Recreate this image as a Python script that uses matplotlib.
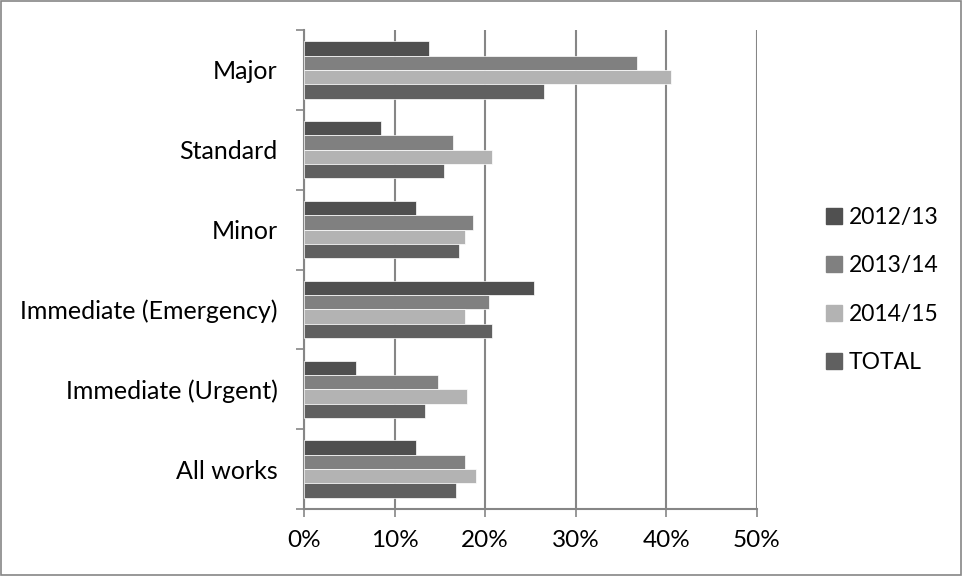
import matplotlib
matplotlib.use("Agg")
import matplotlib.pyplot as plt
import matplotlib.patches as mpatches
import numpy as np

# datos (fracciones)
categories = ["All works", "Immediate (Urgent)", "Immediate (Emergency)", "Minor", "Standard", "Major"]
series_names = ["2012/13", "2013/14", "2014/15", "TOTAL"]
v_2012 = [0.124, 0.057, 0.254, 0.124, 0.085, 0.138]
v_2013 = [0.178, 0.148, 0.204, 0.187, 0.165, 0.368]
v_2014 = [0.190, 0.180, 0.178, 0.178, 0.207, 0.405]
v_total = [0.168, 0.134, 0.208, 0.171, 0.154, 0.265]
xticks = [0, 0.1, 0.2, 0.3, 0.4, 0.5]
xtick_labels = ["0%", "10%", "20%", "30%", "40%", "50%"]

colors = ["#505050", "#808080", "#b3b3b3", "#606060"]
grid_col = "#868686"

plt.rcParams['font.family'] = ['Lato', 'DejaVu Sans']

W, H = 963, 576
fig = plt.figure(figsize=(W / 100, H / 100), dpi=100)
ax = fig.add_axes([304 / W, 1 - 509 / H, (757 - 304) / W, (509 - 30) / H])

y = np.arange(len(categories))
h = 0.18
data = [v_2012, v_2013, v_2014, v_total]
for i, vals in enumerate(data):
    # 2012/13 arriba, TOTAL abajo
    offs = (1.5 - i) * h
    ax.barh(y + offs, vals, height=h, color=colors[i], edgecolor="white",
            linewidth=0.5, zorder=3)

ax.set_xlim(0, 0.5)
ax.set_ylim(-0.5, len(categories) - 0.5)
ax.set_xticks(xticks)
ax.set_xticklabels(xtick_labels, fontsize=17.5)
ax.set_yticks(y)
ax.set_yticklabels(categories, fontsize=18)
ax.tick_params(axis='y', length=0, pad=19)
ax.set_yticks(np.arange(-0.5, len(categories), 1), minor=True)
ax.tick_params(axis='y', which='minor', length=6, width=1.2, color=grid_col, direction='out')
ax.tick_params(axis='x', length=6, width=1.2, color=grid_col, direction='out', pad=9)

ax.grid(True, axis='x', color=grid_col, linewidth=1.5, zorder=0)
for s in ['top', 'right']:
    ax.spines[s].set_visible(False)
for s in ['left', 'bottom']:
    ax.spines[s].set_color(grid_col)
    ax.spines[s].set_linewidth(1.5)

handles = [mpatches.Patch(color=c, label=n) for c, n in zip(colors, series_names)]
fig.legend(handles=handles, loc='center left', bbox_to_anchor=(805 / W, 1 - 290 / H),
           frameon=False, fontsize=16.5, handlelength=0.7, handleheight=0.7,
           handletextpad=0.3, labelspacing=1.2)

# marco exterior
fig.patches.append(mpatches.Rectangle((0.001, 0.001), 0.997, 0.997, transform=fig.transFigure,
                                      fill=False, edgecolor="#868686", linewidth=1.2))

fig.savefig("out.png", dpi=100)
